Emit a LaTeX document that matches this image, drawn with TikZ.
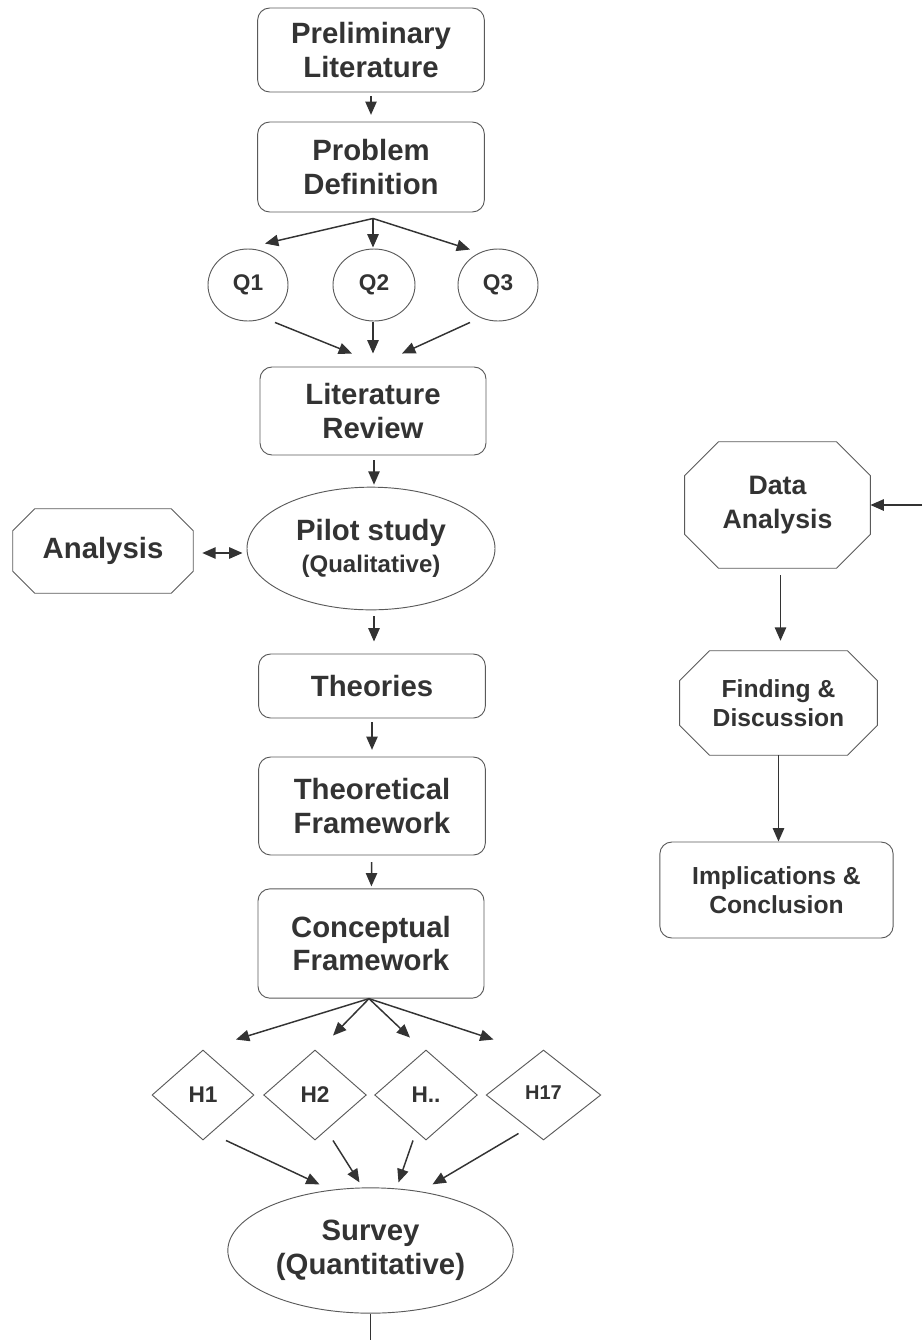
\documentclass[tikz,border=0pt]{standalone}
\usepackage{fontspec}
\setmainfont{Liberation Sans}
\usetikzlibrary{shapes.geometric,arrows.meta,calc}
\definecolor{ink}{HTML}{333333}
\definecolor{edge}{HTML}{5A5A5A}
% octagon outline drawn around a (borderless) node: #1 node name, #2 corner cut
\newcommand\octoutline[2]{%
  \draw[octline] ($(#1.north west)+(#2,0)$) -- ($(#1.north east)+(-#2,0)$)
    -- ($(#1.north east)+(0,#2)$) -- ($(#1.south east)+(0,-#2)$)
    -- ($(#1.south east)+(-#2,0)$) -- ($(#1.south west)+(#2,0)$)
    -- ($(#1.south west)+(0,-#2)$) -- ($(#1.north west)+(0,#2)$) -- cycle;}
\begin{document}
\begin{tikzpicture}[x=0.75pt,y=-0.75pt,
  every node/.style={text=ink, align=center, inner sep=0pt},
  big/.style={font=\fontsize{22}{25}\selectfont\bfseries},
  mid/.style={font=\fontsize{18.5}{22}\selectfont\bfseries},
  rbox/.style={draw=edge, line width=0.7pt, rounded corners=9pt, big},
  oval/.style={draw=edge, line width=0.7pt, ellipse},
  qnode/.style={oval, minimum width=60pt, minimum height=54pt, font=\fontsize{17}{20}\selectfont\bfseries},
  hyp/.style={draw=edge, line width=0.7pt, diamond, minimum width=76.5pt, minimum height=67.5pt, font=\fontsize{17}{20}\selectfont\bfseries},
  octline/.style={draw=edge, line width=0.7pt},
  arr/.style={draw=ink, line width=1.1pt, -{Triangle[length=10pt,width=8.5pt]}},
  darr/.style={draw=ink, line width=1.1pt, {Triangle[length=10pt,width=8.5pt]}-{Triangle[length=10pt,width=8.5pt]}},
  plain/.style={draw=ink, line width=1.1pt},
  flow/.style={arr, shorten <=3pt, shorten >=5pt}]
\useasboundingbox (0,0) rectangle (922,1340);

% main column
\node[rbox, minimum width=170pt, minimum height=63pt] (pl) at (371,50) {Preliminary\\Literature};
\node[rbox, minimum width=170pt, minimum height=67.5pt] (pd) at (371,167) {Problem\\Definition};
\node[qnode] (q1) at (248,285) {Q1};
\node[qnode, minimum width=61.5pt] (q2) at (374,285) {Q2};
\node[qnode] (q3) at (498,285) {Q3};
\node[rbox, minimum width=169.5pt, minimum height=66pt] (lr) at (373,411) {Literature\\Review};
\node[oval, minimum width=186pt, minimum height=92pt, font=\bfseries] (pilot) at (371,548.5)
  {{\fontsize{22}{25}\selectfont Pilot study}\\[5pt]{\fontsize{18}{21}\selectfont(Qualitative)}};
\node[big, minimum width=135pt, minimum height=63pt] (an) at (103,551) {Analysis};
\octoutline{an}{22}
\node[rbox, minimum width=170pt, minimum height=48pt] (th) at (372,686) {Theories};
\node[rbox, minimum width=170pt, minimum height=73.5pt] (tf) at (372,806) {Theoretical\\Framework};
\node[rbox, minimum width=169.5pt, minimum height=82pt] (cf) at (371,943.5) {Conceptual\\Framework};
\node[hyp] (h1) at (203,1095) {H1};
\node[hyp, minimum width=77pt] (h2) at (315,1095) {H2};
\node[hyp, minimum width=77pt] (hx) at (426,1095) {H..};
\node[hyp, minimum width=86pt, font=\fontsize{15}{18}\selectfont\bfseries] (h17) at (543.5,1095) {\raisebox{3pt}{H17}};
\node[oval, minimum width=214pt, minimum height=94pt, font=\fontsize{22}{25.5}\selectfont\bfseries] (sv) at (370.5,1250.5) {Survey\\(Quantitative)};
\coordinate (svout) at (372,1340);

% right column
\node[font=\fontsize{20}{25}\selectfont\bfseries, minimum width=139pt, minimum height=94.5pt] (da) at (777.5,505) {Data\\Analysis};
\octoutline{da}{34}
\coordinate (dain) at (922,505);
\node[mid, minimum width=148pt, minimum height=78pt] (fd) at (778.5,703) {Finding \&\\Discussion};
\octoutline{fd}{30}
\node[rbox, mid, minimum width=175pt, minimum height=72pt] (ic) at (776.5,890) {Implications \&\\Conclusion};

% connectors, main column
\draw[flow] (pl) -- (pd);
\coordinate (pdfan) at ($(pd.south)+(2,6)$);
\draw[arr] (pdfan) -- ($(q1.north)+(17,-5)$);
\draw[arr] (pdfan) -- ($(q2.north)+(-1,-1)$);
\draw[arr] (pdfan) -- ($(q3.north)+(-28,1)$);
\draw[arr] ($(q1.south)+(27,1)$) -- ($(lr.north)+(-21,-13)$);
\draw[arr] ($(q2.south)+(-1,1)$) -- ($(lr.north)+(0,-13)$);
\draw[arr] ($(q3.south)+(-28,1)$) -- ($(lr.north)+(29,-13)$);
\draw[arr] ($(lr.south)+(1,5)$) -- ($(pilot.north)+(3,-2)$);
\draw[darr] ($(an.east)+(9,2)$) -- ($(pilot.west)+(-4,4.5)$);
\draw[arr, shorten <=4.5pt, shorten >=9pt] ($(pilot.south)+(3,0)$) -- ($(th.north)+(2,0)$);
\draw[flow] (th) -- (tf);
\draw[arr, shorten <=5pt, shorten >=1.5pt] (tf) -- (cf);
\coordinate (cffan) at ($(cf.south)+(-2,0)$);
\draw[arr] (cffan) -- ($(h1.north)+(33,-10)$);
\draw[arr] (cffan) -- ($(h2.north)+(18,-14)$);
\draw[arr] (cffan) -- ($(hx.north)+(-16,-12)$);
\draw[arr] (cffan) -- ($(h17.north)+(-50,-10)$);
\draw[arr] ($(h1.south)+(23,0)$) -- ($(sv.north)+(-51,-3)$);
\draw[arr] ($(h2.south)+(18,0)$) -- ($(sv.north)+(-11,-5)$);
\draw[arr] ($(hx.south)+(-13,0)$) -- ($(sv.north)+(28,-5)$);
\draw[arr] ($(h17.south)+(-25,-7)$) -- ($(sv.north)+(62,-3)$);
\draw[plain] (sv.south) -- (sv.south |- svout);

% connectors, right column
\draw[arr] (dain) -- (da.east);
\coordinate (dafrom) at ($(da.south)+(3,7)$);
\coordinate (fdto) at ($(fd.north)+(0,-10)$);
\draw[arr] (dafrom) -- (dafrom |- fdto);
\draw[arr] (fd.south) -- (fd.south |- ic.north);
\end{tikzpicture}
\end{document}
